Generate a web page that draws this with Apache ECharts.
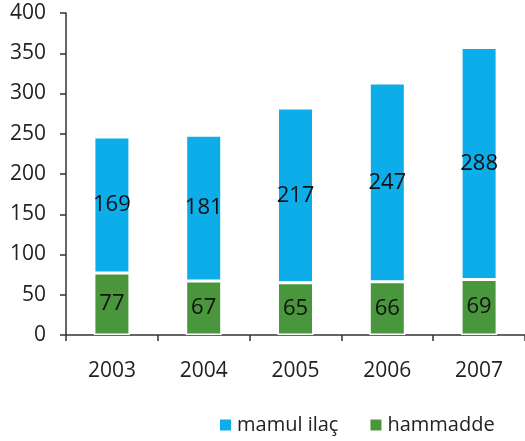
<!DOCTYPE html>
<html><head><meta charset="utf-8">
<script src="https://cdn.jsdelivr.net/npm/echarts@6/dist/echarts.min.js"></script>
<style>html,body{margin:0;padding:0;background:#fff}#c{width:525px;height:441px}</style>
</head><body><div id="c"></div>
<script>
const years = ['2003','2004','2005','2006','2007'];
const hammadde = [77, 67, 65, 66, 69];
const mamulIlac = [169, 181, 217, 247, 288];
const yTicks = {min: 0, max: 400, interval: 50};

const font = '"Open Sans", "Noto Sans", sans-serif';
const chart = echarts.init(document.getElementById('c'), null, {renderer: 'canvas'});
const lbl = {show: true, position: 'inside', color: '#111', fontSize: 22, fontFamily: font};
chart.setOption({
  animation: false,
  grid: {left: 66, top: 13, width: 460, bottom: 106, containLabel: false},
  legend: {
    data: ['mamul ilaç', 'hammadde'], bottom: 1, left: 213,
    icon: 'rect', itemWidth: 13, itemHeight: 13, itemGap: 30,
    textStyle: {fontSize: 20, fontFamily: font, color: '#222'}
  },
  xAxis: {
    type: 'category', data: years,
    axisLine: {lineStyle: {color: '#333', width: 1.5}},
    axisTick: {show: true, length: 6, alignWithLabel: false, lineStyle: {color: '#333', width: 1.5}},
    axisLabel: {fontSize: 21, fontFamily: font, color: '#222', margin: 26}
  },
  yAxis: {
    type: 'value', min: yTicks.min, max: yTicks.max, interval: yTicks.interval,
    axisLine: {show: true, lineStyle: {color: '#333', width: 1.5}},
    axisTick: {show: true, length: 6, lineStyle: {color: '#333', width: 1.5}},
    splitLine: {show: false},
    axisLabel: {fontSize: 21, fontFamily: font, color: '#222', margin: 20}
  },
  series: [
    {name: 'hammadde', type: 'bar', stack: 's', data: hammadde, barWidth: 36,
     itemStyle: {color: '#4A963C', borderColor: '#ffffff', borderWidth: 1.5}, label: lbl},
    {name: 'mamul ilaç', type: 'bar', stack: 's', data: mamulIlac, barWidth: 36,
     itemStyle: {color: '#0DADE9', borderColor: '#ffffff', borderWidth: 1.5}, label: lbl}
  ]
});
</script></body></html>
